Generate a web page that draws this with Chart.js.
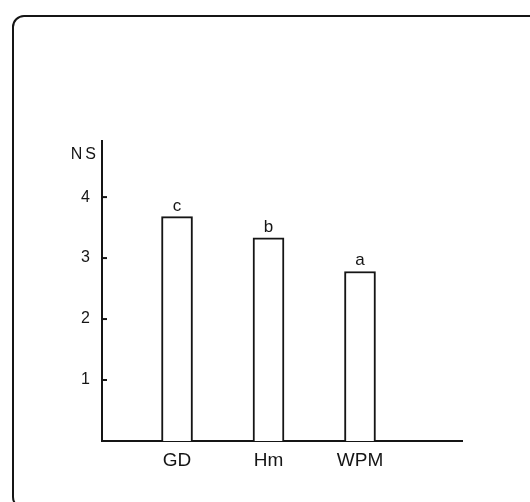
<!DOCTYPE html>
<html>
<head>
<meta charset="utf-8">
<script src="https://cdn.jsdelivr.net/npm/chart.js@4.4.1/dist/chart.umd.min.js"></script>
<style>
  html, body { margin: 0; padding: 0; background: #fff; }
  #wrap { width: 530px; height: 502px; }
</style>
</head>
<body>
<div id="wrap"><canvas id="chartNS"></canvas></div>
<script>
const categorias = ['GD', 'Hm', 'WPM'];
const valoresNS = [3.68, 3.33, 2.78];
const letras = ['c', 'b', 'a'];
const ticksY = [1, 2, 3, 4];

const tinta = '#151515';
const fonte = '"Liberation Sans", Arial, sans-serif';

// moldura arredondada do scan original
const moldura = {
  id: 'moldura',
  beforeDraw(chart) {
    const ctx = chart.ctx;
    ctx.save();
    ctx.fillStyle = '#fff';
    ctx.fillRect(0, 0, chart.width, chart.height);
    ctx.strokeStyle = tinta;
    ctx.lineWidth = 2;
    ctx.beginPath();
    ctx.roundRect(13, 16, 540, 492, 11);
    ctx.stroke();
    ctx.restore();
  }
};

// ticks para dentro, letras sobre as barras e o título NS
const extras = {
  id: 'extras',
  afterDraw(chart) {
    const ctx = chart.ctx;
    const y = chart.scales.y;
    ctx.save();
    ctx.strokeStyle = tinta;
    ctx.lineWidth = 2;
    ticksY.forEach(v => {
      const py = y.getPixelForValue(v);
      ctx.beginPath();
      ctx.moveTo(y.right, py);
      ctx.lineTo(y.right + 5, py);
      ctx.stroke();
    });

    ctx.fillStyle = tinta;
    ctx.textAlign = 'center';
    ctx.textBaseline = 'alphabetic';
    ctx.font = '17px ' + fonte;
    const meta = chart.getDatasetMeta(0);
    meta.data.forEach((bar, i) => {
      ctx.fillText(letras[i], bar.x, bar.y - 6);
    });

    ctx.textAlign = 'right';
    ctx.font = '16px ' + fonte;
    ctx.letterSpacing = '3px';
    ctx.fillText('NS', y.right - 3, chart.chartArea.top + 18);
    ctx.restore();
  }
};

const ctx = document.getElementById('chartNS').getContext('2d');
new Chart(ctx, {
  type: 'bar',
  data: {
    datasets: [{
      data: categorias.map((c, i) => ({ x: i + 1, y: valoresNS[i] })),
      backgroundColor: '#fff',
      borderColor: tinta,
      borderWidth: 2,
      barThickness: 31
    }]
  },
  options: {
    responsive: true,
    maintainAspectRatio: false,
    animation: false,
    layout: { padding: { top: 141, right: 68, left: 0, bottom: 0 } },
    plugins: {
      legend: { display: false },
      tooltip: { enabled: false }
    },
    scales: {
      x: {
        type: 'linear',
        offset: false,
        min: 0.18,
        max: 4.115,
        afterFit(scale) { scale.height = 61; },
        grid: { display: false, drawTicks: false, offset: false },
        border: { display: true, color: tinta, width: 2 },
        ticks: {
          stepSize: 1,
          includeBounds: false,
          autoSkip: false,
          maxRotation: 0,
          padding: 8,
          color: tinta,
          font: { family: fonte, size: 19 },
          callback: v => categorias[v - 1] || ''
        }
      },
      y: {
        min: 0,
        max: 4.92,
        afterFit(scale) { scale.width = 102; },
        grid: { display: false, drawTicks: false },
        border: { display: true, color: tinta, width: 2 },
        ticks: {
          stepSize: 1,
          includeBounds: false,
          padding: 12,
          color: tinta,
          font: { family: fonte, size: 16 },
          callback: v => ticksY.includes(v) ? String(v) : ''
        }
      }
    }
  },
  plugins: [moldura, extras]
});
</script>
</body>
</html>
